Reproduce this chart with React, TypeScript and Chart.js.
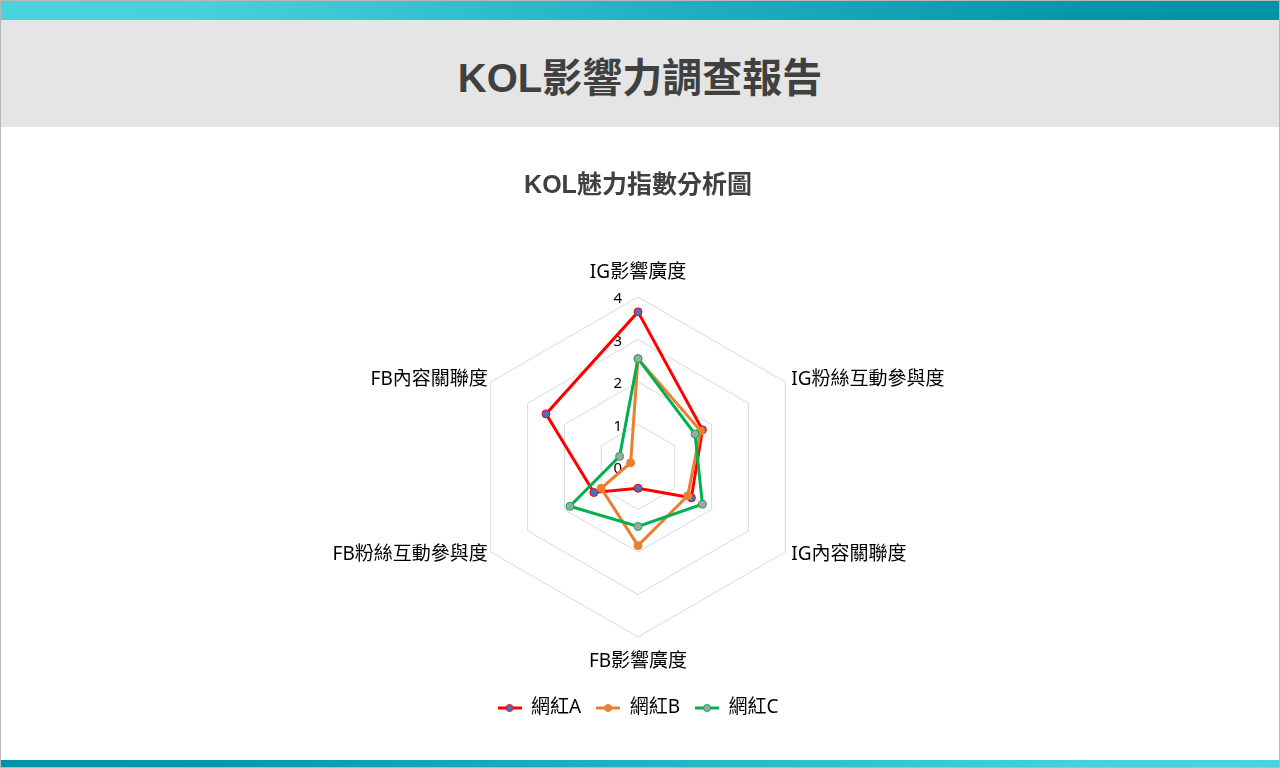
import React, { useEffect, useRef } from "react";
import { Chart, registerables } from "chart.js";

Chart.register(...registerables);

const categories = ["IG影響廣度", "IG粉絲互動參與度", "IG內容關聯度", "FB影響廣度", "FB粉絲互動參與度", "FB內容關聯度"];
const seriesNames = ["網紅A", "網紅B", "網紅C"];
const valuesA = [3.65, 1.75, 1.45, 0.5, 1.2, 2.5];
const valuesB = [2.55, 1.7, 1.35, 1.85, 1.0, 0.2];
const valuesC = [2.55, 1.55, 1.75, 1.4, 1.85, 0.5];
const tickValues = [0, 1, 2, 3, 4];

const lineColors = ["#ff0000", "#ed7d31", "#00b050"];
const pointFills = ["#4472c4", "#ed7d31", "#a5a5a5"];

const CJK = '"Noto Sans", "Noto Sans CJK TC", sans-serif';
const TITLE_FONT = '"Liberation Sans", "Noto Sans CJK TC", sans-serif';

function makeLegendIcon(line: string, fill: string, border: string) {
  const c = document.createElement("canvas");
  c.width = 24;
  c.height = 10;
  const g = c.getContext("2d")!;
  g.strokeStyle = line;
  g.lineWidth = 3;
  g.beginPath();
  g.moveTo(0, 5);
  g.lineTo(24, 5);
  g.stroke();
  g.beginPath();
  g.arc(12, 5, 3.5, 0, Math.PI * 2);
  g.fillStyle = fill;
  g.fill();
  g.lineWidth = 1;
  g.strokeStyle = border;
  g.stroke();
  return c;
}

const customLabels = {
  id: "customLabels",
  beforeDatasetsDraw(chart: any) {
    const scale = chart.scales.r;
    const ctx = chart.ctx;
    ctx.save();
    ctx.font = `15px ${CJK}`;
    ctx.fillStyle = "#000";
    ctx.textAlign = "right";
    ctx.textBaseline = "middle";
    tickValues.forEach((v) => {
      const d = scale.getDistanceFromCenterForValue(v);
      ctx.fillText(String(v), scale.xCenter - 16, scale.yCenter - d + 2);
    });
    ctx.restore();
  },
  afterDraw(chart: any) {
    const scale = chart.scales.r;
    const ctx = chart.ctx;
    ctx.save();
    ctx.font = `19px ${CJK}`;
    ctx.fillStyle = "#000";
    ctx.textBaseline = "middle";
    chart.data.labels.forEach((lab: string, i: number) => {
      const p = scale.getPointPosition(i, scale.drawingArea);
      const dx = p.x - scale.xCenter;
      if (Math.abs(dx) < 1) {
        ctx.textAlign = "center";
        const y = p.y < scale.yCenter ? p.y - 24 : p.y + 25;
        ctx.fillText(lab, p.x, y);
      } else if (dx > 0) {
        ctx.textAlign = "left";
        ctx.fillText(lab, p.x + 6, p.y + (p.y < scale.yCenter ? -2 : 3));
      } else {
        ctx.textAlign = "right";
        ctx.fillText(lab, p.x - 3, p.y + (p.y < scale.yCenter ? -2 : 3));
      }
    });
    ctx.restore();
  },
};

function RadarChart() {
  const ref = useRef<HTMLCanvasElement>(null);
  useEffect(() => {
    const icons = lineColors.map((c, i) => makeLegendIcon(c, pointFills[i], c));
    const seriesValues = [valuesA, valuesB, valuesC];
    const chart = new Chart(ref.current!, {
      type: "radar",
      data: {
        labels: categories,
        datasets: seriesNames.map((name, i) => ({
          label: name,
          data: seriesValues[i],
          order: seriesNames.length - i,
          borderColor: lineColors[i],
          backgroundColor: "transparent",
          fill: false,
          borderWidth: 3,
          pointRadius: 4,
          pointBorderWidth: 1,
          pointBackgroundColor: pointFills[i],
          pointBorderColor: lineColors[i],
        })),
      },
      options: {
        animation: false,
        responsive: false,
        devicePixelRatio: 1,
        layout: { padding: { left: 0, right: 4, top: 0, bottom: 32.5 } },
        scales: {
          r: {
            min: 0,
            max: 4,
            ticks: { stepSize: 1, display: false },
            grid: { color: "#d9d9d9", lineWidth: 1 },
            angleLines: { display: false },
            pointLabels: { display: false },
          },
        },
        plugins: {
          title: {
            display: true,
            text: "KOL魅力指數分析圖",
            color: "#404040",
            font: { size: 25, weight: "bold", family: TITLE_FONT },
            padding: { top: 44, bottom: 96 },
          },
          legend: {
            position: "bottom",
            title: { display: true, text: "", padding: { top: 45.5, bottom: 0 }, font: { size: 1, lineHeight: 1 } },
            labels: {
              usePointStyle: true,
              pointStyleWidth: 24,
              padding: 15,
              color: "#000",
              font: { size: 19, family: CJK },
              generateLabels: (ch: any) => {
                const items = Chart.defaults.plugins.legend.labels.generateLabels(ch);
                return items
                  .slice()
                  .sort((a: any, b: any) => a.datasetIndex - b.datasetIndex)
                  .map((it: any) => ({ ...it, pointStyle: icons[it.datasetIndex] }));
              },
            },
          },
          tooltip: { enabled: false },
        },
      },
      plugins: [customLabels],
    } as any);
    return () => chart.destroy();
  }, []);
  return <canvas ref={ref} width={1280} height={633} style={{ display: "block", width: 1280, height: 633 }} />;
}

export default function App() {
  return (
    <div style={{ position: "fixed", left: 0, top: 0, width: 1280, height: 768, background: "#fff", overflow: "hidden" }}>
      <div
        style={{
          position: "absolute",
          left: 0,
          top: 0,
          width: 1280,
          height: 20,
          background: "linear-gradient(90deg, #4bd3dd 0%, #48d1db 15%, #22b2c4 50%, #0496a9 85%, #0093a6 100%)",
        }}
      />
      <div
        style={{
          position: "absolute",
          left: 0,
          top: 20,
          width: 1280,
          height: 107,
          background: "#e5e5e5",
          display: "flex",
          alignItems: "center",
          justifyContent: "center",
          boxSizing: "border-box",
          paddingTop: 3,
          fontFamily: TITLE_FONT,
          fontWeight: "bold",
          fontSize: 40,
          color: "#404040",
        }}
      >
        KOL影響力調查報告
      </div>
      <div style={{ position: "absolute", left: 0, top: 127, width: 1280, height: 633 }}>
        <RadarChart />
      </div>
      <div
        style={{
          position: "absolute",
          left: 0,
          top: 760,
          width: 1280,
          height: 7,
          background: "linear-gradient(90deg, #0093a6 0%, #0496a9 15%, #22b2c4 50%, #48d1db 85%, #4bd3dd 100%)",
        }}
      />
      <div
        style={{
          position: "absolute",
          left: 0,
          top: 0,
          width: 1280,
          height: 768,
          boxSizing: "border-box",
          border: "1px solid #b8b8b8",
          pointerEvents: "none",
        }}
      />
    </div>
  );
}
